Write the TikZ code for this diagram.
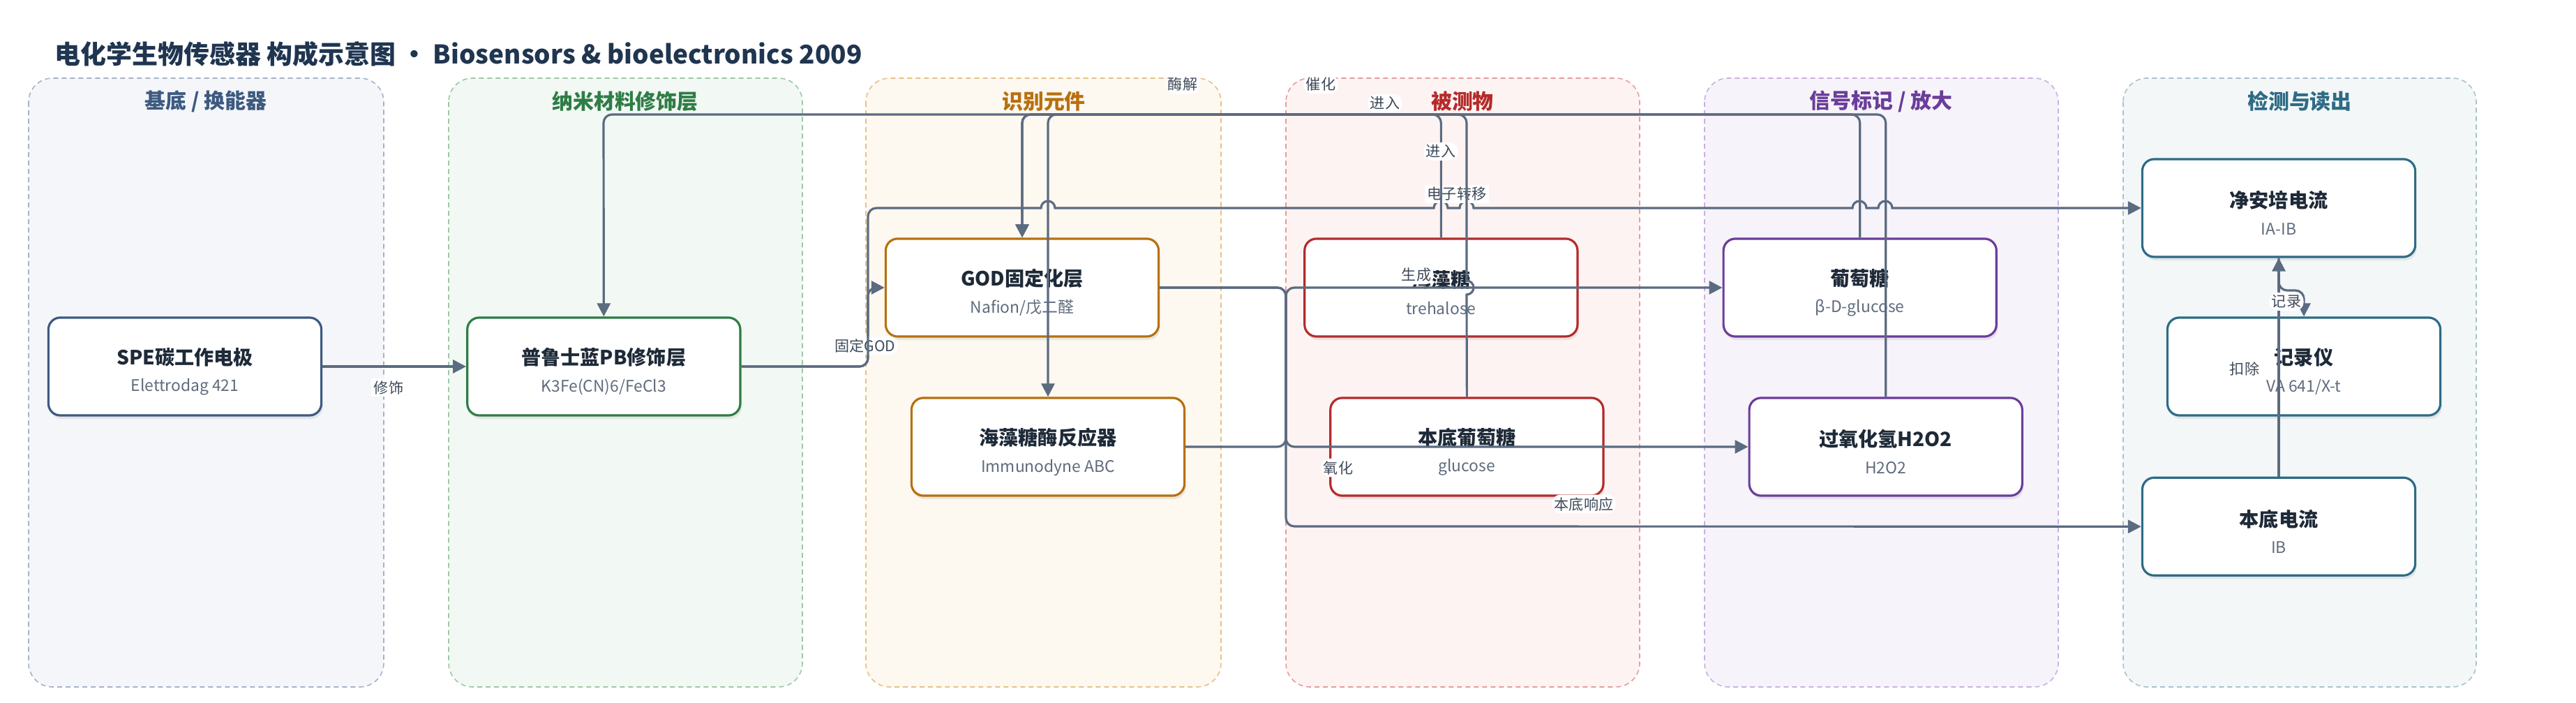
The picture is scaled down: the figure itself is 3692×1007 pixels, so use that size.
\documentclass[tikz,border=0pt]{standalone}
\usepackage{fontspec}
\setmainfont{Noto Sans CJK SC}
\usetikzlibrary{arrows.meta,shadows}

\definecolor{ink}{HTML}{1F3550}
\definecolor{wire}{HTML}{5B6B80}
\definecolor{maintext}{HTML}{1E2A38}
\definecolor{subtext}{HTML}{5F6B7C}
\definecolor{labeltext}{HTML}{3F4A5A}

\definecolor{baseD}{HTML}{3D5A80}
\definecolor{baseF}{HTML}{F4F6FA}
\definecolor{baseB}{HTML}{A5B2C6}
\definecolor{nanoD}{HTML}{2E7D45}
\definecolor{nanoF}{HTML}{F2F8F3}
\definecolor{nanoB}{HTML}{9CC8A6}
\definecolor{recoD}{HTML}{B7700F}
\definecolor{recoF}{HTML}{FDF8F0}
\definecolor{recoB}{HTML}{E5C185}
\definecolor{anaD}{HTML}{B52B2B}
\definecolor{anaF}{HTML}{FDF3F3}
\definecolor{anaB}{HTML}{E59C9C}
\definecolor{sigD}{HTML}{6A3D9A}
\definecolor{sigF}{HTML}{F6F3FA}
\definecolor{sigB}{HTML}{C8B0E0}
\definecolor{readD}{HTML}{2E6B85}
\definecolor{readF}{HTML}{F3F7F8}
\definecolor{readB}{HTML}{A6C2CB}

\newcommand{\boxtext}[2]{\rule{0pt}{11pt}\textbf{#1}\\[1pt]{\fontsize{6.5}{8}\selectfont\color{subtext}#2}}

\begin{document}
\begin{tikzpicture}[x=0.01cm, y=-0.01cm, node distance=6cm,
        lane/.style={draw=#1B, fill=#1F, line width=0.45pt, dash pattern=on 0.07cm off 0.05cm, rounded corners=0.34cm},
        head/.style={text=#1D, font=\bfseries\fontsize{8.5}{10}\selectfont},
        box/.style={draw=#1D, fill=white, line width=0.9pt, rounded corners=0.17cm, minimum width=3.91cm, minimum height=1.4cm, align=center, text=maintext, font=\fontsize{8}{10}\selectfont, drop shadow={shadow xshift=0.02cm, shadow yshift=-0.05cm, opacity=0.15}},
        conn/.style={draw=wire, line width=0.9pt, -{Triangle[length=0.19cm,width=0.19cm]}},
        lbl/.style={fill=white, inner sep=1pt, text=labeltext, font=\fontsize{6}{7}\selectfont}]
        \useasboundingbox (0,0) rectangle (3692,1007);

        \node(title)[anchor=west, inner sep=0pt, text=ink, font=\bfseries\fontsize{10.5}{12}\selectfont] at (78,77) {电化学生物传感器 构成示意图 · Biosensors \& bioelectronics 2009};

        % lanes
        \draw[lane=base] (41,112) rectangle (550,984);
        \draw[lane=nano] (643,112) rectangle (1150,984);
        \draw[lane=reco] (1241,112) rectangle (1750,984);
        \draw[lane=ana] (1843,112) rectangle (2350,984);
        \draw[lane=sig] (2443,112) rectangle (2950,984);
        \draw[lane=read] (3043,112) rectangle (3549,984);

        \node(hbase)[head=base] at (295,145) {基底 / 换能器};
        \node(hnano)[head=nano] at (896,145) {纳米材料修饰层};
        \node(hreco)[head=reco] at (1496,145) {识别元件};
        \node(hana)[head=ana] at (2096,145) {被测物};
        \node(hsig)[head=sig] at (2696,145) {信号标记 / 放大};
        \node(hread)[head=read] at (3296,145) {检测与读出};

        % boxes
        \node(spe)[box=base] at (265,525) {\boxtext{SPE碳工作电极}{Elettrodag 421}};
        \node(pb)[box=nano, right of=spe] {\boxtext{普鲁士蓝PB修饰层}{K3Fe(CN)6/FeCl3}};
        \node(god)[box=reco] at (1465,412) {\boxtext{GOD固定化层}{Nafion/戊二醛}};
        \node(trehalase)[box=reco] at (1502,640) {\boxtext{海藻糖酶反应器}{Immunodyne ABC}};
        \node(treh)[box=ana, right of=god] {\boxtext{海藻糖}{trehalose}};
        \node(bgglc)[box=ana, right of=trehalase] {\boxtext{本底葡萄糖}{glucose}};
        \node(glc)[box=sig, right of=treh] {\boxtext{葡萄糖}{β-D-glucose}};
        \node(h2o2)[box=sig, right of=bgglc] {\boxtext{过氧化氢H2O2}{H2O2}};
        \node(netcur)[box=read] at (3266,298) {\boxtext{净安培电流}{IA-IB}};
        \node(recorder)[box=read] at (3302,525) {\boxtext{记录仪}{VA 641/X-t}};
        \node(bgcur)[box=read, below of=netcur, node distance=4.56cm] {\boxtext{本底电流}{IB}};

        % connectors
        \draw[conn] (spe) -- (pb) node[lbl] at (557,555) {修饰};
        \draw[conn, rounded corners=0.12cm] (pb.east) -| (1244,412) -- (god.west) node[lbl] at (1240,495) {固定GOD};
        \draw[conn] (pb.east) [rounded corners=0.12cm] -| (1244,298) -- (1400,298) [sharp corners] -- (1492,298) arc[start angle=180, end angle=0, radius=0.1cm] -- (2055,298) arc[start angle=180, end angle=0, radius=0.1cm] -- (2092,298) arc[start angle=180, end angle=0, radius=0.1cm] -- (2655,298) arc[start angle=180, end angle=0, radius=0.1cm] -- (2692,298) arc[start angle=180, end angle=0, radius=0.1cm] -- (netcur.west) node[lbl] at (2088,278) {电子转移};
        \draw[conn, rounded corners=0.12cm] (treh.north) |- (1502,164) -- (trehalase.north) node[lbl] at (2065,217) {进入};
        \draw[conn] (bgglc.north) -- (2102,422) arc[start angle=-90, end angle=90, radius=0.1cm] -- (2102,300) [rounded corners=0.12cm] -- (2102,164) -- (1465,164) -- (god.north) node[lbl] at (1985,148) {进入};
        \draw[conn, rounded corners=0.12cm] (h2o2.north) |- (865,164) -- (pb.north) node[lbl] at (1893,121) {催化};
        \draw[conn, rounded corners=0.12cm] (glc.north) |- (1465,164) -- (god.north) node[lbl] at (1695,121) {酶解};
        \draw[conn, rounded corners=0.12cm] (trehalase.east) -| (1843,412) -- (glc.west) node[lbl] at (2030,394) {生成};
        \draw[conn, rounded corners=0.12cm] (god.east) -| (1843,640) -- (h2o2.west) node[lbl] at (1918,670) {氧化};
        \draw[conn, rounded corners=0.12cm] (god.east) -| (1843,754) -- (bgcur.west) node[lbl] at (2270,722) {本底响应};
        \draw[conn] (bgcur) -- (netcur) node[lbl] at (3217,528) {扣除};
        \draw[conn, rounded corners=0.12cm] (netcur.south) |- (3302,416) -- (recorder.north) node[lbl] at (3277,432) {记录};
    \end{tikzpicture}
\end{document}
